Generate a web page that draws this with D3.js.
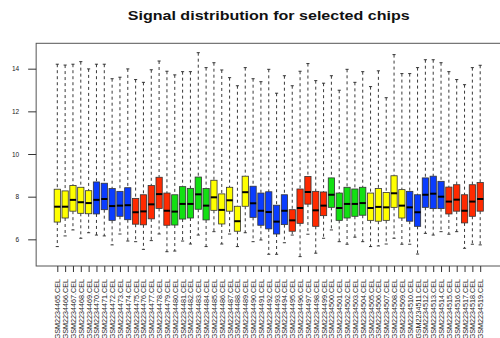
<!DOCTYPE html>
<html>
<head>
<meta charset="utf-8">
<script src="https://cdn.jsdelivr.net/npm/d3@7"></script>
<style>
  body { margin: 0; background: #fff; }
  svg { display: block; font-family: "Liberation Sans", Arial, Helvetica, sans-serif; }
</style>
</head>
<body>
<svg id="chart" width="500" height="338"></svg>
<script>
// Chip file names (one box per array)
const chips = [
  "GSM2234465.CEL","GSM2234466.CEL","GSM2234467.CEL","GSM2234468.CEL","GSM2234469.CEL",
  "GSM2234470.CEL","GSM2234471.CEL","GSM2234472.CEL","GSM2234473.CEL","GSM2234474.CEL",
  "GSM2234475.CEL","GSM2234476.CEL","GSM2234477.CEL","GSM2234478.CEL","GSM2234479.CEL",
  "GSM2234480.CEL","GSM2234481.CEL","GSM2234482.CEL","GSM2234483.CEL","GSM2234484.CEL",
  "GSM2234485.CEL","GSM2234486.CEL","GSM2234487.CEL","GSM2234488.CEL","GSM2234489.CEL",
  "GSM2234490.CEL","GSM2234491.CEL","GSM2234492.CEL","GSM2234493.CEL","GSM2234494.CEL",
  "GSM2234495.CEL","GSM2234496.CEL","GSM2234497.CEL","GSM2234498.CEL","GSM2234499.CEL",
  "GSM2234500.CEL","GSM2234501.CEL","GSM2234502.CEL","GSM2234503.CEL","GSM2234504.CEL",
  "GSM2234505.CEL","GSM2234506.CEL","GSM2234507.CEL","GSM2234508.CEL","GSM2234509.CEL",
  "GSM2234510.CEL","GSM2234511.CEL","GSM2234512.CEL","GSM2234513.CEL","GSM2234514.CEL",
  "GSM2234515.CEL","GSM2234516.CEL","GSM2234517.CEL","GSM2234518.CEL","GSM2234519.CEL"
];

// Five-number summaries of log2 signal per chip
const whiskerHigh = [
  14.21,14.17,14.21,14.33,13.99, 14.21,14.21,13.53,13.60,13.99,
  13.49,13.36,13.95,14.36,13.88, 13.71,13.86,13.86,14.75,14.05,
  14.28,13.94,13.58,13.20,14.05, 13.53,13.39,13.97,12.85,13.67,
  13.20,13.88,14.24,13.44,13.32, 13.67,12.99,13.97,13.36,13.86,
  13.16,13.90,12.64,14.66,13.77, 13.77,14.05,14.42,14.42,14.28,
  13.86,13.49,13.25,14.05,14.16
];
const upperQuartile = [
  8.35,8.27,8.52,8.44,8.28, 8.69,8.63,8.38,8.25,8.42,
  7.92,8.09,8.52,8.91,8.17, 8.09,8.47,8.39,8.92,8.38,
  8.77,8.13,8.44,7.55,8.96, 8.49,8.17,8.23,7.60,8.09,
  7.39,8.36,8.95,8.25,8.22, 8.88,8.17,8.44,8.36,8.44,
  8.17,8.38,8.20,8.98,8.33, 8.25,8.09,8.88,8.96,8.72,
  8.45,8.56,8.09,8.56,8.66
];
const medians = [
  7.53,7.53,7.85,7.74,7.70, 7.85,7.89,7.56,7.58,7.60,
  7.27,7.31,7.64,8.12,7.34, 7.30,7.66,7.66,8.11,7.58,
  7.97,7.38,7.83,6.85,8.21, 7.69,7.34,7.28,6.83,7.34,
  6.89,7.47,8.22,7.36,7.58, 8.09,7.47,7.66,7.66,7.70,
  7.47,7.52,7.50,8.16,7.58, 7.50,7.27,8.09,8.14,8.00,
  7.77,7.86,7.34,7.77,7.89
];
const lowerQuartile = [
  6.81,7.00,7.32,7.22,7.20, 7.19,7.39,6.89,7.08,6.92,
  6.71,6.68,6.96,7.45,6.66, 6.67,6.95,7.00,7.41,6.91,
  7.36,6.72,7.32,6.38,7.55, 7.03,6.66,6.49,6.25,6.69,
  6.38,6.75,7.65,6.61,7.11, 7.50,6.89,7.00,7.08,7.13,
  6.89,6.85,6.89,7.50,7.00, 6.85,6.61,7.50,7.44,7.44,
  7.19,7.32,6.77,7.08,7.32
];
const whiskerLow = [
  5.66,6.16,6.44,6.05,6.31, 6.20,6.16,5.74,6.25,5.92,
  5.89,5.53,5.94,6.25,5.42, 5.45,5.92,5.78,6.20,5.66,
  6.36,5.78,6.25,5.66,6.31, 5.89,5.97,5.30,5.30,5.84,
  6.20,5.19,6.24,5.35,6.05, 6.44,5.89,5.77,6.10,5.89,
  5.66,5.69,5.78,6.05,5.77, 5.77,5.31,6.28,6.20,6.36,
  6.24,6.36,5.58,5.77,5.74
];

// Fill colour of each box (groups of five chips)
const Y = "#ffff00", B = "#0a3cff", R = "#ff2a00", G = "#12e012";
const boxColors = [
  Y,Y,Y,Y,Y, B,B,B,B,B, R,R,R,R,R, G,G,G,G,G,
  Y,Y,Y,Y,Y, B,B,B,B,B, R,R,R,R,R, G,G,G,G,G,
  Y,Y,Y,Y,Y, B,B,B,B,B, R,R,R,R,R
];

const yTicks = [6, 8, 10, 12, 14];
const titleText = "Signal distribution for selected chips";

// ---- layout ----
const frame = { left: 36.15, right: 501.3, top: 43.3, bottom: 266 };

const svg = d3.select("#chart");

const x = d3.scalePoint().domain(chips).range([57.3, 480.2]);
const y = d3.scaleLinear().domain([4.75, 15.19]).range([frame.bottom, frame.top]);

const boxW = x.step() * 0.8;
const capW = boxW * 0.5;

const rows = chips.map((c, i) => ({
  chip: c,
  lo: whiskerLow[i], q1: lowerQuartile[i], med: medians[i],
  q3: upperQuartile[i], hi: whiskerHigh[i], color: boxColors[i]
}));

// title
svg.append("text")
  .attr("x", (frame.left + frame.right) / 2)
  .attr("y", 20)
  .attr("text-anchor", "middle")
  .attr("font-size", 13.5)
  .attr("font-weight", "bold")
  .attr("textLength", 282)
  .attr("lengthAdjust", "spacingAndGlyphs")
  .attr("fill", "#111")
  .text(titleText);

// boxes
const g = svg.append("g").attr("class", "boxes");
const box = g.selectAll("g.box").data(rows).join("g").attr("class", "box");

// dashed whiskers
box.append("line")
  .attr("x1", d => x(d.chip)).attr("x2", d => x(d.chip))
  .attr("y1", d => y(d.hi)).attr("y2", d => y(d.q3))
  .attr("stroke", "#222").attr("stroke-width", 0.9).attr("stroke-dasharray", "3,3");
box.append("line")
  .attr("x1", d => x(d.chip)).attr("x2", d => x(d.chip))
  .attr("y1", d => y(d.q1)).attr("y2", d => y(d.lo))
  .attr("stroke", "#222").attr("stroke-width", 0.9).attr("stroke-dasharray", "3,3");

// whisker caps
["hi", "lo"].forEach(k => {
  box.append("line")
    .attr("x1", d => x(d.chip) - capW / 2).attr("x2", d => x(d.chip) + capW / 2)
    .attr("y1", d => y(d[k])).attr("y2", d => y(d[k]))
    .attr("stroke", "#222").attr("stroke-width", 0.9);
});

// interquartile box
box.append("rect")
  .attr("x", d => x(d.chip) - boxW / 2)
  .attr("width", boxW)
  .attr("y", d => y(d.q3))
  .attr("height", d => y(d.q1) - y(d.q3))
  .attr("fill", d => d.color)
  .attr("stroke", "#333").attr("stroke-width", 0.8);

// median
box.append("line")
  .attr("x1", d => x(d.chip) - boxW / 2).attr("x2", d => x(d.chip) + boxW / 2)
  .attr("y1", d => y(d.med)).attr("y2", d => y(d.med))
  .attr("stroke", "#000").attr("stroke-width", 2);

// plot frame
svg.append("rect")
  .attr("x", frame.left).attr("y", frame.top)
  .attr("width", frame.right - frame.left).attr("height", frame.bottom - frame.top)
  .attr("fill", "none").attr("stroke", "#555").attr("stroke-width", 1);

// y axis
const yAxis = svg.append("g")
  .attr("transform", `translate(${frame.left},0)`)
  .call(d3.axisLeft(y).tickValues(yTicks).tickSize(8).tickPadding(9).tickFormat(d3.format("d")));
yAxis.select(".domain").remove();
yAxis.selectAll("line").attr("stroke", "#333");
yAxis.selectAll("text")
  .attr("font-size", 6.5).attr("fill", "#222")
  .attr("font-family", "\"Liberation Sans\", Arial, sans-serif");

// x axis with vertical chip labels
const xAxis = svg.append("g")
  .attr("transform", `translate(0,${frame.bottom})`)
  .call(d3.axisBottom(x).tickSize(6).tickSizeOuter(0));
xAxis.select(".domain").remove();
xAxis.selectAll("line").attr("stroke", "#333");
xAxis.selectAll("text")
  .attr("font-size", 7.2).attr("fill", "#222")
  .attr("font-family", "\"Liberation Sans\", Arial, sans-serif")
  .attr("text-anchor", "end")
  .attr("dy", "0.35em")
  .attr("transform", "translate(0,13) rotate(-90)")
  .attr("x", 0).attr("y", 0);
</script>
</body>
</html>
